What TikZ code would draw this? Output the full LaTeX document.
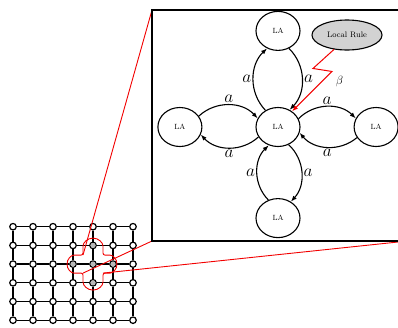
\documentclass[tikz,border=0pt]{standalone}
\usepackage{tikz}
\usetikzlibrary{arrows.meta,shapes.geometric,positioning,calc}
\colorlet{rulefill}{gray!35}
\colorlet{zoomred}{red!95!black}
\tikzset{%
  la/.style={draw,ellipse,line width=1.1pt,minimum width=44pt,minimum height=39pt,inner sep=0pt,font=\fontsize{7.5}{7.5}\selectfont},
  cell/.style={draw,circle,line width=1.2pt,fill=white,minimum size=6.5pt,inner sep=0pt},
  grid/.style={line width=1.3pt},
  link/.style={-{Latex[length=6pt,width=4.5pt]},line width=1.1pt,bend left=45},
  lbl/.style={font=\fontsize{17}{17}\selectfont,inner sep=1.5pt},
  zoomline/.style={zoomred,line width=0.9pt},
}
\begin{document}
\begin{tikzpicture}[x=1pt,y=1pt]
\useasboundingbox (0,0) rectangle (398,-327);
% lattice of cells
\foreach \i in {0,...,6}
  \foreach \j in {0,...,5}
    \node[cell] (g-\i-\j) at ({13+20*\i},{-226.7-18.7*\j}) {};
\foreach \j in {0,...,5}{
  \foreach \i [count=\k] in {0,...,5}
    \draw[grid] (g-\i-\j) -- (g-\k-\j);}
\foreach \i in {0,...,6}{
  \foreach \j [count=\k] in {0,...,4}
    \draw[grid] (g-\i-\j) -- (g-\i-\k);}
\foreach \c in {4-1,3-2,4-2,5-2,4-3}
  \fill[gray!55] (g-\c) circle (2.5pt);
% neighbourhood outline
\begin{scope}[shift={(g-4-2.center)}]
  \coordinate (crTL) at (-10,9);
  \coordinate (crBL) at (-10,-9);
  \coordinate (crBR) at (10,-9);
  \draw[zoomline,rounded corners=2pt] (crTL) -- (-10,16) arc[start angle=180,end angle=0,radius=10]
    -- (10,9) -- (15,9) arc[start angle=90,end angle=-90,radius=9]
    -- (crBR) -- (10,-16) arc[start angle=0,end angle=-180,radius=10]
    -- (crBL) -- (-17,-9) arc[start angle=270,end angle=90,radius=9] -- cycle;
\end{scope}
% zoom box
\coordinate (boxTL) at (152,-10);
\coordinate (boxBL) at (152,-241);
\coordinate (boxBR) at (398,-242);
\draw[zoomline] (crTL) -- (boxTL);
\draw[zoomline] (crBL) -- (boxBL);
\draw[zoomline] (crBR) -- (boxBR);
\draw[line width=1.2pt] (398,-10) -- (boxTL) -- (boxBL) -- (398,-241);
% automata
\node[la] (laC) at (278,-127) {LA};
\node[la,above=56pt of laC] (laT) {LA};
\node[la,left=53pt of laC] (laL) {LA};
\node[la,right=53pt of laC] (laR) {LA};
\node[la,below=51pt of laC] (laB) {LA};
\node[draw,ellipse,fill=rulefill,line width=1.1pt,minimum width=70pt,minimum height=30pt,
      inner sep=0pt,font=\fontsize{8}{8}\selectfont] (rule) at (347,-35) {Local Rule};
\draw[link] (laC.127) to node[lbl,left] {$a$} (laT.238);
\draw[link] (laT.302) to node[lbl,right] {$a$} (laC.56);
\draw[link] (laL.30) to node[lbl,above] {$a$} (laC.157);
\draw[link] (laC.207) to node[lbl,below] {$a$} (laL.340);
\draw[link] (laC.22) to node[lbl,above] {$a$} (laR.157);
\draw[link] (laR.209) to node[lbl,below] {$a$} (laC.345);
\draw[link] (laB.118) to node[lbl,left] {$a$} (laC.243);
\draw[link] (laC.301) to node[lbl,right] {$a$} (laB.52);
% rule signal
\draw[zoomred,line width=1pt,-{Latex[length=6pt,width=4.5pt]}] (rule.228) -- ++(-21,-19) -- ++(19,-3)
  node[below right=1pt and 0pt,font=\fontsize{12}{12}\selectfont,text=black] {$\beta$} -- (laC.48);
\end{tikzpicture}
\end{document}
